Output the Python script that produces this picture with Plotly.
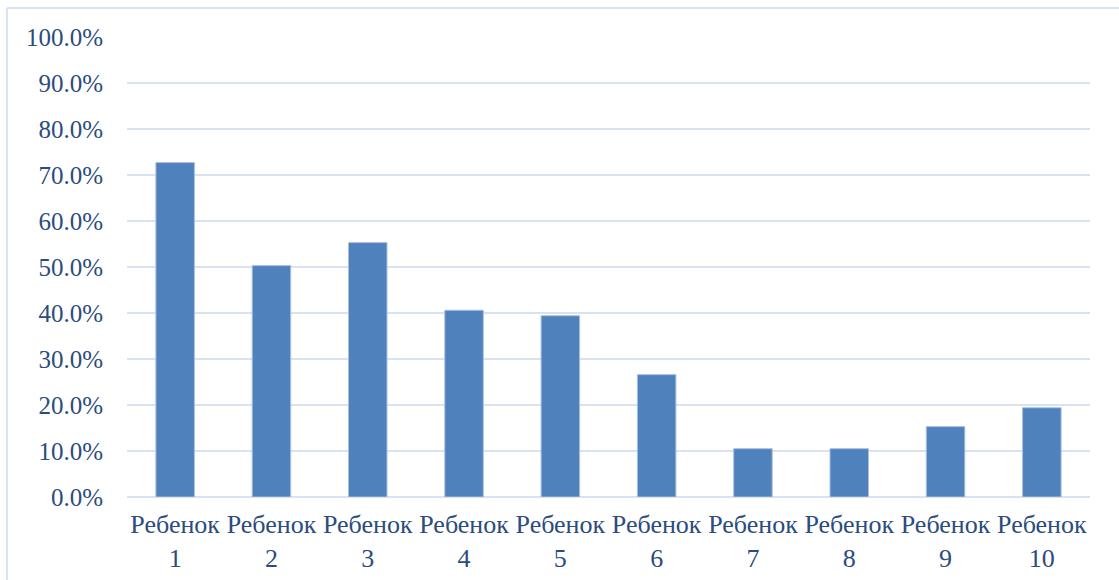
import plotly.graph_objects as go

categories = ["Ребенок<br>1", "Ребенок<br>2", "Ребенок<br>3", "Ребенок<br>4", "Ребенок<br>5",
              "Ребенок<br>6", "Ребенок<br>7", "Ребенок<br>8", "Ребенок<br>9", "Ребенок<br>10"]
values = [0.727, 0.503, 0.553, 0.406, 0.394, 0.266, 0.105, 0.105, 0.153, 0.194]
y_ticks = [0.0, 0.1, 0.2, 0.3, 0.4, 0.5, 0.6, 0.7, 0.8, 0.9, 1.0]

W, H = 1119, 580
ML, MR, MT, MB = 127, 29, 37, 83
pw = W - ML - MR
ph = H - MT - MB

text_color = "#2B4C7E"
grid_color = "#D9E2F1"
font_family = "Liberation Serif, Times New Roman, serif"

fig = go.Figure(go.Bar(
    x=categories, y=values,
    marker=dict(color="#4F81BD", line=dict(color="#A9C0E0", width=1)),
))

# border lines (top and left) of chart area
bx = (7 - ML) / pw
by = (H - MB - 8) / ph
fig.add_shape(type="line", xref="paper", yref="paper", x0=bx, x1=(W - ML) / pw + 0.01, y0=by, y1=by,
              line=dict(color=grid_color, width=2), layer="below")
fig.add_shape(type="line", xref="paper", yref="paper", x0=bx, x1=bx, y0=by, y1=-(MB + 5) / ph,
              line=dict(color=grid_color, width=2), layer="below")

fig.update_layout(
    width=W, height=H,
    margin=dict(l=ML, r=MR, t=MT, b=MB),
    paper_bgcolor="white", plot_bgcolor="white",
    bargap=0.6,
    showlegend=False,
    font=dict(family=font_family, size=24, color=text_color),
)
fig.update_yaxes(range=[0, 1.0], tickvals=y_ticks, tickformat=".1%",
                 showgrid=True, gridcolor=grid_color, gridwidth=2,
                 zeroline=True, zerolinecolor=grid_color, zerolinewidth=2,
                 showline=False, ticks="", ticklabelstandoff=23, automargin=False,
                 tickfont=dict(size=25, color=text_color))
fig.update_xaxes(showgrid=False, showline=False, ticks="", automargin=False,
                 tickfont=dict(size=26, color=text_color), ticklabelstandoff=9)

fig.write_html("out.html")
